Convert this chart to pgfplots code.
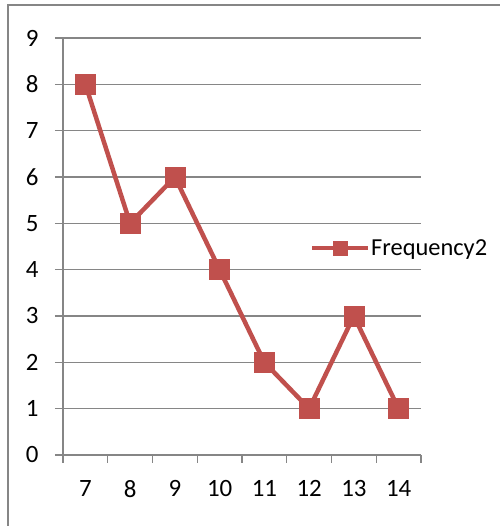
\documentclass[border=0pt]{standalone}
\usepackage{fontspec}
\setmainfont{Carlito}
\usepackage{pgfplots}
\pgfplotsset{compat=1.18}
\definecolor{xlred}{HTML}{C0504D}
\definecolor{xlgray}{HTML}{868686}
\begin{document}
\begin{tikzpicture}
\useasboundingbox (0,0) rectangle (500bp,526bp);
% chart frame (only left and top edges are inside the picture)
\draw[xlgray, line width=1.5bp] (8bp,0) -- (8bp,521bp) -- (500bp,521bp);
\begin{axis}[
    at={(63bp,71bp)}, anchor=south west,
    scale only axis,
    width=358bp, height=417bp,
    xmin=6.5, xmax=14.5, ymin=0, ymax=9,
    axis lines=left,
    axis line style={-, xlgray, line width=1.2bp},
    xtick={7,...,14},
    minor xtick={6.5,7.5,...,14.5},
    ytick={0,...,9},
    tick align=outside,
    major x tick style={draw=none},
    minor tick length=8bp,
    major tick length=8bp,
    tick style={xlgray, line width=1.2bp},
    ymajorgrids,
    grid style={xlgray, line width=1.2bp},
    /pgf/number format/assume math mode=true,
    tick label style={font=\fontsize{25}{30}\selectfont},
    yticklabel style={xshift=-13bp},
    xticklabel style={yshift=-14bp},
    legend style={at={(0.69,0.496)}, anchor=west, draw=none, fill=none,
        inner sep=0pt, font=\fontsize{24.5}{30}\selectfont,
        nodes={inner sep=0.5bp}},
    legend image code/.code={
        \draw (0bp,0bp) -- (56bp,0bp);
        \draw plot[mark=square*, mark size=7bp] coordinates {(28bp,0bp)};
    },
]
\addplot[xlred, line width=4.5bp, mark=square*, mark size=10bp,
    mark options={solid, line width=0.5bp}]
    coordinates {(7,8) (8,5) (9,6) (10,4) (11,2) (12,1) (13,3) (14,1)};
\addlegendentry{Frequency2}
\end{axis}
\end{tikzpicture}
\end{document}
